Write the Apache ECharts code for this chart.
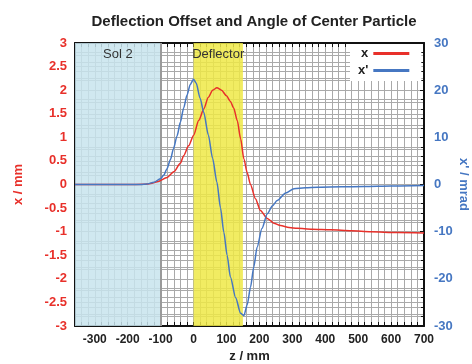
<!DOCTYPE html>
<html>
<head>
<meta charset="utf-8">
<script src="https://cdn.jsdelivr.net/npm/echarts@6/dist/echarts.min.js"></script>
<style>
  html, body { margin: 0; padding: 0; background: #fff; }
  #chart { width: 472px; height: 364px; }
</style>
</head>
<body>
<div id="chart"></div>
<script>
// Beam position z (mm) and transverse offset x (mm) of the center particle
const zOffset = [-360, -200, -150, -130, -110, -80, -60, -40, -30, -15, 0, 16, 31, 45, 58, 71, 85, 100, 112, 122, 133, 143, 153, 163, 173, 188, 203, 224, 244, 264, 290, 315, 360, 417, 480, 538, 620, 700];
const xOffset = [0, 0, 0.005, 0.02, 0.06, 0.15, 0.27, 0.45, 0.61, 0.82, 1.04, 1.36, 1.6, 1.85, 2.0, 2.05, 2.0, 1.88, 1.76, 1.62, 1.35, 0.97, 0.54, 0.25, 0.0, -0.3, -0.55, -0.72, -0.82, -0.87, -0.91, -0.93, -0.95, -0.96, -0.98, -1.0, -1.02, -1.03];

// Beam position z (mm) and angle x' (mrad)
const zAngle = [-360, -200, -160, -142, -120, -101, -90, -81, -70, -61, -50, -40, -30, -20, -10, 0, 8, 20, 31, 45, 58, 71, 82, 92, 102, 112, 128, 143, 153, 163, 173, 183, 193, 208, 224, 240, 254, 280, 305, 340, 376, 450, 517, 600, 700];
const xAngle = [0, 0, 0.02, 0.1, 0.5, 1.2, 2.0, 3.3, 5.3, 7.6, 10.3, 13.2, 16.2, 18.9, 21.2, 22.3, 21.5, 18.3, 15.3, 10.5, 5.5, 0.5, -5, -10.1, -15, -19.6, -24, -27.3, -27.8, -25.5, -21.8, -17.5, -13.3, -9.3, -6.2, -4.5, -3.4, -1.8, -0.9, -0.7, -0.57, -0.5, -0.42, -0.3, -0.2];

// Element regions along z (mm)
const solRegion = [-360, -100];
const deflectorRegion = [0, 150];
const regionNames = ['Sol 2', 'Deflector'];

const RED = '#e8302a';
const BLUE = '#4677c2';
const GRID = '#a9a9a9';
const FONT = 'Liberation Sans, Arial, sans-serif';

const pairs = (xs, ys) => xs.map((v, i) => [v, ys[i]]);

const chart = echarts.init(document.getElementById('chart'));

const xAxisBase = {
  type: 'value', min: -360, max: 700, interval: 20,
  axisLine: { show: true, onZero: false, lineStyle: { color: '#111', width: 2 } },
  axisTick: { show: true, inside: true, length: 4, lineStyle: { color: '#111' } },
  splitLine: { show: true, lineStyle: { color: GRID, width: 1 } }
};

chart.setOption({
  animation: false,
  textStyle: { fontFamily: FONT },
  title: {
    text: 'Deflection Offset and Angle of Center Particle',
    left: 249, top: 9, textAlign: 'center',
    textStyle: { fontFamily: FONT, fontSize: 15, fontWeight: 'bold', color: '#222' }
  },
  legend: {
    orient: 'vertical', left: 350, top: 44, align: 'right',
    backgroundColor: '#fff', padding: [3, 12, 4, 8], itemGap: 4,
    itemWidth: 36, itemHeight: 3, icon: 'rect',
    textStyle: { fontFamily: FONT, fontSize: 13, fontWeight: 'bold', color: '#222' },
    data: ['x', "x'"]
  },
  grid: { left: 75, right: 48, top: 43, bottom: 38, outerBoundsMode: 'none', containLabel: false },
  xAxis: [
    Object.assign({}, xAxisBase, {
      position: 'bottom',
      name: 'z / mm', nameLocation: 'middle', nameGap: 24, nameMoveOverlap: false,
      nameTextStyle: { fontFamily: FONT, fontSize: 13, fontWeight: 'bold', color: '#222' },
      axisLabel: {
        margin: 8, fontSize: 12, fontWeight: 'bold', color: '#222', fontFamily: FONT,
        formatter: v => (v % 100 === 0 ? String(v) : '')
      }
    }),
    Object.assign({}, xAxisBase, {
      position: 'top', axisLabel: { show: false }, splitLine: { show: false }
    })
  ],
  yAxis: [
    {
      type: 'value', min: -3, max: 3, interval: 0.5, position: 'left',
      name: 'x / mm', nameLocation: 'middle', nameGap: 50, nameRotate: 90, nameMoveOverlap: false,
      nameTextStyle: { fontFamily: FONT, fontSize: 13, fontWeight: 'bold', color: RED },
      axisLine: { show: true, onZero: false, lineStyle: { color: '#111', width: 2 } },
      axisTick: { show: false },
      axisLabel: { margin: 8, fontSize: 13, fontWeight: 'bold', color: RED, fontFamily: FONT },
      splitLine: { show: true, lineStyle: { color: GRID, width: 1 } },
      minorTick: { show: false, splitNumber: 2 },
      minorSplitLine: { show: true, lineStyle: { color: GRID, width: 1 } }
    },
    {
      type: 'value', min: -30, max: 30, interval: 10, position: 'right',
      name: "x' / mrad", nameLocation: 'middle', nameGap: 33, nameRotate: -90, nameMoveOverlap: false,
      nameTextStyle: { fontFamily: FONT, fontSize: 13, fontWeight: 'bold', color: BLUE },
      axisLine: { show: true, onZero: false, lineStyle: { color: '#111', width: 2 } },
      axisTick: { show: true, inside: true, length: 4, lineStyle: { color: '#111' } },
      axisLabel: { margin: 10, fontSize: 13, fontWeight: 'bold', color: BLUE, fontFamily: FONT },
      splitLine: { show: true, lineStyle: { color: GRID, width: 1 } },
      minorTick: { show: true, splitNumber: 5, length: 3, lineStyle: { color: '#111' } },
      minorSplitLine: { show: true, lineStyle: { color: GRID, width: 1 } }
    }
  ],
  series: [
    {
      name: 'x', type: 'line', xAxisIndex: 0, yAxisIndex: 0,
      data: pairs(zOffset, xOffset), smooth: 0.25, smoothMonotone: 'x', showSymbol: false,
      lineStyle: { color: RED, width: 1.5 }, itemStyle: { color: RED }, z: 5,
      markArea: {
        silent: true,
        label: { position: 'insideTop', distance: 5, fontFamily: FONT, fontSize: 13, color: '#333' },
        data: [
          [{ name: regionNames[0], xAxis: solRegion[0], itemStyle: { color: 'rgba(200,228,237,0.85)' } }, { xAxis: solRegion[1] }],
          [{ name: regionNames[1], xAxis: deflectorRegion[0], itemStyle: { color: 'rgba(238,233,70,0.85)' } }, { xAxis: deflectorRegion[1] }]
        ]
      },
      markLine: {
        silent: true, symbol: 'none', label: { show: false },
        lineStyle: { color: '#9a9a9a', width: 2, type: 'solid' },
        data: [{ xAxis: solRegion[1] }]
      }
    },
    {
      name: "x'", type: 'line', xAxisIndex: 0, yAxisIndex: 1,
      data: pairs(zAngle, xAngle), smooth: 0.25, smoothMonotone: 'x', showSymbol: false,
      lineStyle: { color: BLUE, width: 1.5 }, itemStyle: { color: BLUE }, z: 6
    }
  ]
});
</script>
</body>
</html>
